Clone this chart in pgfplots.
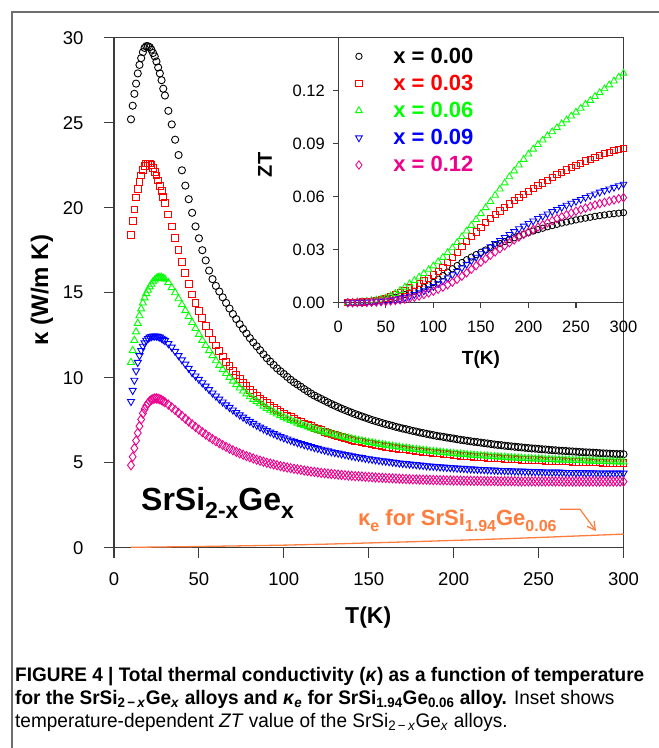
\documentclass[border=0pt]{standalone}
\usepackage{fontspec}
\setmainfont{Liberation Sans}
\newfontfamily\capfont[FakeStretch=0.97]{Liberation Sans}
\usepackage{pgfplots}
\pgfplotsset{compat=1.18}
\usepackage{pgfplotstable}
\usetikzlibrary{arrows.meta}
\definecolor{kor}{RGB}{255,125,60}
\definecolor{framegray}{RGB}{110,110,110}
\definecolor{axgray}{RGB}{60,60,60}

\pgfplotstableread{
T k0 k3 k6 k9 k12
10 25.2 18.4 10.9 8.6 4.85
11 26.0 19.2 11.6 9.25 5.35
12 26.7 19.9 12.2 9.85 5.85
13 27.3 20.6 12.7 10.4 6.3
14 27.9 21.1 13.2 10.9 6.75
15 28.4 21.5 13.65 11.3 7.15
16 28.8 21.9 14.05 11.6 7.55
17 29.15 22.2 14.4 11.85 7.9
18 29.4 22.45 14.7 12.05 8.15
19 29.5 22.6 14.95 12.2 8.35
20 29.5 22.6 15.15 12.3 8.5
21 29.45 22.6 15.35 12.38 8.62
22 29.3 22.5 15.5 12.42 8.7
23 29.1 22.35 15.65 12.45 8.75
24 28.9 22.1 15.75 12.45 8.78
25 28.6 21.9 15.85 12.45 8.78
26 28.25 21.6 15.9 12.42 8.76
27 27.9 21.3 15.9 12.38 8.73
28 27.5 21.0 15.9 12.32 8.68
29 27.0 20.65 15.85 12.25 8.62
30 26.6 20.3 15.8 12.18 8.56
32 25.7 19.6 15.6 12.0 8.42
34 24.9 18.9 15.3 11.8 8.26
36 24.0 18.2 15.0 11.55 8.1
38 23.1 17.5 14.65 11.3 7.93
40 22.2 16.8 14.3 11.05 7.76
42 21.3 16.15 13.95 10.8 7.59
44 20.5 15.5 13.6 10.55 7.42
46 19.7 14.9 13.25 10.3 7.26
48 18.9 14.4 12.9 10.1 7.1
50 18.2 13.95 12.55 9.9 6.95
52 17.5 13.5 12.2 9.7 6.8
54 16.9 13.05 11.9 9.5 6.66
56 16.3 12.65 11.6 9.3 6.52
58 15.8 12.25 11.3 9.1 6.39
60 15.4 11.9 11.0 8.92 6.27
62 15.07 11.57 10.73 8.74 6.15
64 14.73 11.25 10.48 8.57 6.04
66 14.4 10.95 10.25 8.4 5.93
68 14.07 10.68 10.02 8.25 5.83
70 13.75 10.42 9.8 8.1 5.73
72 13.45 10.15 9.6 7.95 5.64
74 13.15 9.92 9.4 7.81 5.55
76 12.87 9.7 9.22 7.68 5.47
78 12.6 9.5 9.05 7.55 5.39
80 12.33 9.3 8.88 7.43 5.32
82 12.08 9.12 8.73 7.31 5.25
84 11.85 8.95 8.6 7.2 5.18
86 11.62 8.78 8.47 7.09 5.12
88 11.38 8.63 8.33 6.99 5.06
90 11.15 8.5 8.2 6.89 5.0
92 10.95 8.37 8.09 6.8 4.95
94 10.75 8.23 7.98 6.71 4.9
96 10.55 8.1 7.87 6.62 4.85
98 10.38 7.99 7.77 6.54 4.8
100 10.22 7.88 7.67 6.46 4.76
102 10.05 7.77 7.58 6.39 4.72
104 9.88 7.67 7.49 6.32 4.68
106 9.73 7.57 7.41 6.25 4.64
108 9.6 7.48 7.33 6.18 4.61
110 9.47 7.39 7.26 6.12 4.58
112 9.33 7.31 7.18 6.06 4.54
114 9.2 7.22 7.11 6.0 4.51
116 9.07 7.14 7.04 5.95 4.48
118 8.95 7.06 6.98 5.89 4.46
120 8.85 6.98 6.92 5.84 4.43
122 8.75 6.91 6.86 5.79 4.4
124 8.65 6.83 6.8 5.74 4.38
126 8.55 6.76 6.74 5.69 4.36
128 8.45 6.69 6.69 5.64 4.34
130 8.36 6.63 6.63 5.6 4.32
132 8.27 6.56 6.58 5.56 4.3
134 8.18 6.5 6.53 5.52 4.28
136 8.1 6.44 6.49 5.48 4.26
138 8.02 6.39 6.44 5.44 4.24
140 7.94 6.34 6.4 5.4 4.23
142 7.86 6.3 6.36 5.36 4.21
144 7.79 6.25 6.32 5.33 4.2
146 7.72 6.21 6.28 5.3 4.19
148 7.65 6.17 6.24 5.26 4.17
150 7.58 6.13 6.2 5.23 4.16
152 7.51 6.09 6.17 5.2 4.15
154 7.45 6.05 6.13 5.17 4.13
156 7.39 6.02 6.1 5.14 4.12
158 7.33 5.99 6.07 5.11 4.11
160 7.27 5.95 6.03 5.09 4.1
162 7.22 5.92 6.0 5.06 4.09
164 7.17 5.89 5.97 5.03 4.08
166 7.11 5.86 5.94 5.01 4.07
168 7.06 5.83 5.91 4.98 4.06
170 7.01 5.8 5.88 4.96 4.05
172 6.97 5.78 5.86 4.94 4.04
174 6.92 5.75 5.83 4.92 4.03
176 6.87 5.72 5.8 4.9 4.02
178 6.83 5.7 5.78 4.88 4.02
180 6.78 5.67 5.75 4.86 4.01
182 6.74 5.65 5.73 4.84 4.0
184 6.7 5.63 5.71 4.82 4.0
186 6.66 5.6 5.68 4.8 3.99
188 6.62 5.58 5.66 4.79 3.98
190 6.58 5.56 5.64 4.77 3.98
192 6.55 5.54 5.62 4.75 3.97
194 6.52 5.52 5.6 4.74 3.97
196 6.48 5.5 5.58 4.72 3.96
198 6.45 5.48 5.56 4.71 3.96
200 6.42 5.46 5.54 4.7 3.95
202 6.38 5.44 5.52 4.68 3.95
204 6.35 5.42 5.5 4.67 3.95
206 6.32 5.41 5.49 4.66 3.94
208 6.29 5.39 5.47 4.64 3.94
210 6.26 5.37 5.45 4.63 3.94
212 6.23 5.36 5.44 4.62 3.93
214 6.21 5.34 5.42 4.61 3.93
216 6.18 5.33 5.41 4.6 3.93
218 6.15 5.32 5.4 4.59 3.92
220 6.13 5.3 5.38 4.58 3.92
222 6.1 5.29 5.37 4.57 3.92
224 6.07 5.28 5.36 4.56 3.92
226 6.05 5.26 5.34 4.55 3.91
228 6.03 5.25 5.33 4.54 3.91
230 6.0 5.24 5.32 4.53 3.91
232 5.98 5.22 5.3 4.53 3.91
234 5.96 5.21 5.29 4.52 3.91
236 5.94 5.2 5.28 4.51 3.91
238 5.92 5.19 5.27 4.51 3.9
240 5.9 5.18 5.26 4.5 3.9
242 5.88 5.17 5.25 4.49 3.9
244 5.86 5.16 5.24 4.49 3.9
246 5.84 5.15 5.23 4.48 3.9
248 5.83 5.14 5.22 4.47 3.9
250 5.81 5.14 5.22 4.47 3.9
252 5.79 5.13 5.21 4.46 3.9
254 5.78 5.12 5.2 4.45 3.9
256 5.76 5.11 5.19 4.45 3.9
258 5.74 5.1 5.18 4.44 3.9
260 5.73 5.09 5.17 4.44 3.9
262 5.71 5.09 5.17 4.44 3.9
264 5.7 5.08 5.16 4.43 3.89
266 5.69 5.07 5.15 4.42 3.89
268 5.67 5.07 5.15 4.42 3.89
270 5.66 5.06 5.14 4.42 3.89
272 5.65 5.05 5.13 4.41 3.89
274 5.63 5.05 5.13 4.41 3.89
276 5.62 5.04 5.12 4.41 3.89
278 5.61 5.03 5.11 4.4 3.89
280 5.6 5.03 5.11 4.4 3.89
282 5.59 5.02 5.1 4.4 3.89
284 5.58 5.01 5.09 4.39 3.89
286 5.56 5.01 5.09 4.39 3.89
288 5.55 5.0 5.08 4.39 3.89
290 5.54 4.99 5.07 4.38 3.89
292 5.53 4.99 5.07 4.38 3.89
294 5.52 4.98 5.06 4.38 3.89
296 5.51 4.97 5.05 4.38 3.89
298 5.51 4.97 5.05 4.38 3.89
300 5.5 4.97 5.05 4.38 3.89
}\kappadata

\pgfplotstableread{
T z0 z3 z6 z9 z12
10 0 0 0 0 0
15 0.0001 0.0001 0.0001 0.0000 0.0000
20 0.0002 0.0002 0.0003 0.0001 0.0001
25 0.0004 0.0004 0.0005 0.0002 0.0001
30 0.0006 0.0006 0.0008 0.0003 0.0002
35 0.0009 0.0009 0.0011 0.0004 0.0003
40 0.0012 0.0013 0.0015 0.0006 0.0004
45 0.0016 0.0018 0.0020 0.0008 0.0006
50 0.0020 0.0025 0.0027 0.0010 0.0008
55 0.0025 0.0034 0.0038 0.0013 0.0010
60 0.0031 0.0045 0.0052 0.0017 0.0013
65 0.0038 0.0058 0.0069 0.0022 0.0016
70 0.0046 0.0071 0.0088 0.0029 0.0020
75 0.0055 0.0085 0.0107 0.0037 0.0025
80 0.0065 0.0098 0.0126 0.0046 0.0031
85 0.0076 0.0110 0.0145 0.0056 0.0038
90 0.0088 0.0124 0.0165 0.0067 0.0046
95 0.0101 0.0139 0.0186 0.0079 0.0055
100 0.0114 0.0157 0.0208 0.0092 0.0065
105 0.0133 0.0177 0.0231 0.0107 0.0076
110 0.0153 0.0200 0.0256 0.0123 0.0088
115 0.0173 0.0226 0.0283 0.0140 0.0101
120 0.0192 0.0256 0.0310 0.0158 0.0116
125 0.0210 0.0286 0.0340 0.0177 0.0132
130 0.0227 0.0316 0.0373 0.0197 0.0150
135 0.0243 0.0345 0.0405 0.0217 0.0169
140 0.0258 0.0373 0.0437 0.0237 0.0189
145 0.0272 0.0400 0.0470 0.0257 0.0209
150 0.0285 0.0427 0.0503 0.0277 0.0229
155 0.0298 0.0453 0.0537 0.0297 0.0249
160 0.0311 0.0476 0.0572 0.0316 0.0268
165 0.0323 0.0498 0.0607 0.0334 0.0287
170 0.0335 0.0519 0.0642 0.0352 0.0305
175 0.0346 0.0539 0.0677 0.0369 0.0322
180 0.0357 0.0558 0.0712 0.0386 0.0339
185 0.0367 0.0576 0.0745 0.0402 0.0355
190 0.0377 0.0594 0.0778 0.0418 0.0371
195 0.0387 0.0611 0.0810 0.0433 0.0386
200 0.0396 0.0628 0.0840 0.0448 0.0400
205 0.0405 0.0645 0.0868 0.0462 0.0414
210 0.0413 0.0661 0.0894 0.0476 0.0427
215 0.0421 0.0677 0.0919 0.0489 0.0440
220 0.0429 0.0693 0.0943 0.0502 0.0452
225 0.0436 0.0708 0.0966 0.0515 0.0464
230 0.0443 0.0723 0.0989 0.0527 0.0475
235 0.0450 0.0737 0.1011 0.0539 0.0486
240 0.0456 0.0751 0.1033 0.0551 0.0497
245 0.0462 0.0764 0.1055 0.0562 0.0507
250 0.0468 0.0777 0.1077 0.0573 0.0517
255 0.0473 0.0789 0.1099 0.0584 0.0526
260 0.0478 0.0801 0.1121 0.0595 0.0535
265 0.0483 0.0812 0.1143 0.0605 0.0544
270 0.0488 0.0823 0.1165 0.0615 0.0552
275 0.0492 0.0833 0.1187 0.0625 0.0560
280 0.0496 0.0842 0.1209 0.0634 0.0567
285 0.0500 0.0851 0.1231 0.0643 0.0574
290 0.0503 0.0859 0.1253 0.0652 0.0581
295 0.0506 0.0866 0.1275 0.0661 0.0588
300 0.0509 0.0873 0.1297 0.0670 0.0594
}\ztdata

\pgfplotstableread{
T ke
10 0.02
25 0.04
50 0.07
75 0.11
100 0.15
125 0.21
150 0.28
175 0.35
200 0.43
225 0.51
250 0.60
275 0.70
300 0.80
}\kedata

\pgfplotsset{
  chartstyle/.style={
    scale only axis, clip=false,
    axis line style={axgray, line width=1.2pt},
    tick style={axgray, line width=1.1pt},
    tick align=outside, tick pos=left,
    /pgf/number format/assume math mode=true,
  },
  legimg/.style={legend image code/.code={\path (0pt,0pt) (52pt,0pt);\draw[mark repeat=2, mark phase=2, ##1] plot coordinates {(0pt,0pt) (20pt,0pt) (52pt,0pt)};}},
}

\begin{document}
\begin{tikzpicture}
\useasboundingbox (0pt,0pt) rectangle (659pt,-748pt);
\draw[framegray, line width=1.3pt] (12pt,-748pt) -- (12pt,-12pt) -- (659pt,-12pt);

\begin{axis}[chartstyle,
  at={(114pt,-547.7pt)}, anchor=south west,
  width=509.5pt, height=510pt,
  xmin=0, xmax=300, ymin=0, ymax=30,
  xtick={0,50,...,300}, ytick={0,5,...,30},
  major tick length=10pt,
  tick label style={font=\fontsize{18.5}{20}\selectfont},
  xticklabel style={yshift=-11.5pt},
  yticklabel style={xshift=-17pt},
  xlabel={T(K)}, ylabel={κ (W/m K)},
  xlabel style={font=\bfseries\fontsize{23}{25}\selectfont, at={(axis description cs:0.499,-0.136)}, anchor=center},
  ylabel style={font=\bfseries\fontsize{24}{26}\selectfont, at={(axis description cs:-0.1415,0.505)}, anchor=center},
]
\addplot[only marks, mark=o, draw=black, mark size=3.6pt, line width=0.9pt] table[x=T,y=k0]{\kappadata};
\addplot[only marks, mark=square, draw=red, mark size=3.4pt, line width=0.9pt] table[x=T,y=k3]{\kappadata};
\addplot[only marks, mark=triangle, draw=green, mark size=4.1pt, line width=0.9pt] table[x=T,y=k6]{\kappadata};
\addplot[only marks, mark=triangle, mark options={rotate=180}, draw=blue, mark size=4.1pt, line width=0.9pt] table[x=T,y=k9]{\kappadata};
\addplot[only marks, mark=diamond, draw=magenta, mark size=4.6pt, line width=0.9pt] table[x=T,y=k12]{\kappadata};
\addplot[kor, line width=1.3pt, no marks] table[x=T,y=ke]{\kedata};
\end{axis}

\begin{axis}[chartstyle,
  at={(338.3pt,-302.7pt)}, anchor=south west,
  width=285.2pt, height=265.4pt,
  xmin=0, xmax=300, ymin=0, ymax=0.15,
  xtick={0,50,...,300}, ytick={0,0.03,0.06,0.09,0.12},
  scaled y ticks=false,
  major tick length=5pt,
  tick label style={font=\fontsize{16.5}{18}\selectfont},
  xticklabel style={yshift=-10pt},
  yticklabel style={xshift=-5pt, /pgf/number format/fixed, /pgf/number format/fixed zerofill, /pgf/number format/precision=2},
  xlabel={T(K)}, ylabel={ZT},
  xlabel style={font=\bfseries\fontsize{19}{21}\selectfont, at={(axis description cs:0.5,-0.216)}, anchor=center},
  ylabel style={font=\bfseries\fontsize{20}{22}\selectfont, at={(axis description cs:-0.257,0.519)}, anchor=center},
  legend style={at={(axis description cs:0,1)}, anchor=north west, yshift=-8.4pt, draw=none, fill=none,
    inner xsep=0pt, inner ysep=0pt, row sep=6.3pt,
    font=\bfseries\fontsize{22}{22}\selectfont},
  legend cell align=left,
]
\addplot[only marks, legimg, mark=o, draw=black, mark size=3.2pt, line width=0.85pt] table[x=T,y=z0]{\ztdata};
\addlegendentry{\textcolor{black}{x = 0.00}}
\addplot[only marks, legimg, mark=square, draw=red, mark size=3.1pt, line width=0.85pt] table[x=T,y=z3]{\ztdata};
\addlegendentry{\textcolor{red}{x = 0.03}}
\addplot[only marks, legimg, mark=triangle, draw=green, mark size=3.9pt, line width=0.85pt] table[x=T,y=z6]{\ztdata};
\addlegendentry{\textcolor{green}{x = 0.06}}
\addplot[only marks, legimg, mark=triangle, mark options={rotate=180}, draw=blue, mark size=3.9pt, line width=0.85pt] table[x=T,y=z9]{\ztdata};
\addlegendentry{\textcolor{blue}{x = 0.09}}
\addplot[only marks, legimg, mark=diamond, draw=magenta, mark size=4.2pt, line width=0.85pt] table[x=T,y=z12]{\ztdata};
\addlegendentry{\textcolor{magenta}{x = 0.12}}
\end{axis}

\node[anchor=base west, font=\bfseries\fontsize{32}{34}\selectfont, inner sep=0pt] at (141pt,-510pt)
  {SrSi\raisebox{-8pt}{\fontsize{23}{23}\selectfont 2-x}Ge\raisebox{-8pt}{\fontsize{23}{23}\selectfont x}};

\node[anchor=base west, text=kor, font=\bfseries\fontsize{22}{24}\selectfont, inner sep=0pt] at (358pt,-525pt)
  {κ\raisebox{-6pt}{\fontsize{16}{16}\selectfont e} for SrSi\raisebox{-6pt}{\fontsize{16}{16}\selectfont 1.94}Ge\raisebox{-6pt}{\fontsize{16}{16}\selectfont 0.06}};
\draw[kor, line width=1.2pt, -{Straight Barb[length=8pt,width=9pt]}] (560pt,-509.3pt) -- (580pt,-509.3pt) -- (596pt,-531pt);

\begin{scope}[every node/.style={anchor=base west, inner sep=0pt, font=\capfont\fontsize{19.6}{22}\selectfont}]
\node at (15pt,-681pt) {\bfseries FIGURE 4 | Total thermal conductivity (\textit{κ}) as a function of temperature};
\node at (15pt,-704pt) {\bfseries for the SrSi\textsubscript{2\,−\,\textit{x}}Ge\textsubscript{\textit{x}} alloys and \textit{κ}\textsubscript{\textit{e}} for SrSi\textsubscript{1.94}Ge\textsubscript{0.06} alloy.\mdseries{} Inset shows};
\node at (15pt,-727pt) {temperature-dependent \textit{ZT} value of the SrSi\textsubscript{2\,−\,\textit{x}}Ge\textsubscript{\textit{x}} alloys.};
\end{scope}
\end{tikzpicture}
\end{document}
